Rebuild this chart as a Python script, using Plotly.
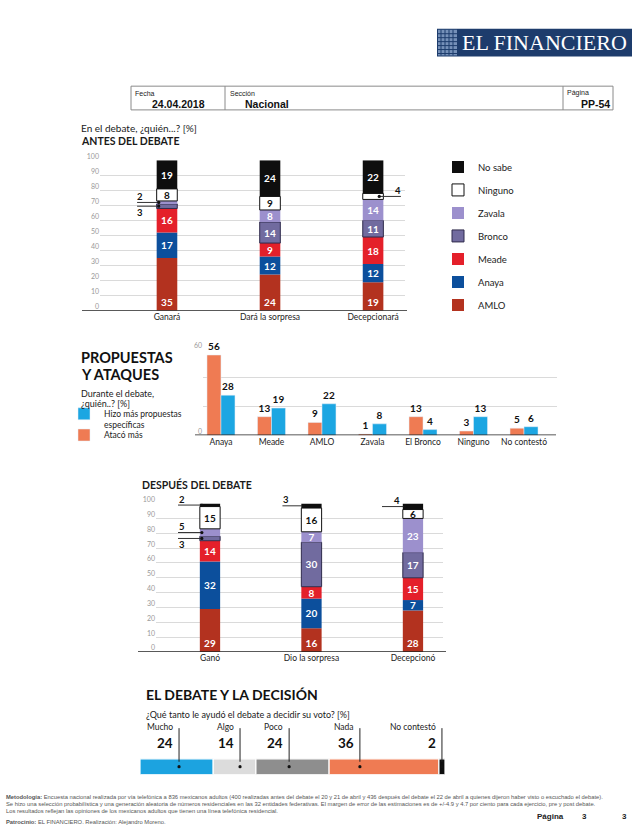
import plotly.graph_objects as go

W, H = 640, 833
def px(x): return x / W
def py(y): return 1 - y / H

FONT = "Lato"
NARROW = "Liberation Sans Narrow, Lato"
DARK = "#1a1a1a"

# ---------------- Data ----------------
candidatos = ["AMLO", "Anaya", "Meade", "Bronco", "Zavala", "Ninguno", "No sabe"]

antes_cats = ["Ganará", "Dará la sorpresa", "Decepcionará"]
antes_amlo = [35, 24, 19]
antes_anaya = [17, 12, 12]
antes_meade = [16, 9, 18]
antes_bronco = [3, 14, 11]
antes_zavala = [2, 8, 14]
antes_ninguno = [8, 9, 4]
antes_nosabe = [19, 24, 22]

despues_cats = ["Ganó", "Dio la sorpresa", "Decepcionó"]
despues_amlo = [29, 16, 28]
despues_anaya = [32, 20, 7]
despues_meade = [14, 8, 15]
despues_bronco = [3, 30, 17]
despues_zavala = [5, 7, 23]
despues_ninguno = [15, 16, 6]
despues_nosabe = [2, 3, 4]

prop_cats = ["Anaya", "Meade", "AMLO", "Zavala", "El Bronco", "Ninguno", "No contestó"]
prop_ataco = [56, 13, 9, 1, 13, 3, 5]
prop_propuestas = [28, 19, 22, 8, 4, 13, 6]

decision_cats = ["Mucho", "Algo", "Poco", "Nada", "No contestó"]
decision_vals = [24, 14, 24, 36, 2]

stack_ticks = list(range(0, 101, 10))

# ---------------- Styles ----------------
cand_colors = ["#b3321f", "#0c4f9c", "#e4202a", "#716b9f", "#9c90cd", "#ffffff", "#0e0e0e"]
cand_line_colors = ["#b3321f", "#0c4f9c", "#e4202a", "#2f2b4c", "#9c90cd", "#111111", "#0e0e0e"]
cand_line_widths = [0, 0, 0, 1, 0, 1, 0]
ORANGE = "#ef7b53"
BLUE = "#1ca6e2"
decision_colors = ["#1ca3e0", "#dcdcdc", "#8e8e8e", ORANGE, "#0e0e0e"]
decision_line_pos = [12.8, 32.8, 48.9, 72.1, 99.0]

fig = go.Figure()

def add_stack(series, cats, xa, ya, show_legend):
    base = [0] * len(cats)
    n = len(candidatos)
    for k, (name, vals, col, lc, lw) in enumerate(zip(candidatos, series, cand_colors, cand_line_colors, cand_line_widths)):
        text = [str(v) if v > 5 else "" for v in vals]
        fig.add_trace(go.Bar(
            x=cats, y=vals, base=list(base), width=0.2,
            name=name, legendgroup=name, showlegend=show_legend, legendrank=n - k,
            marker=dict(color=col, line=dict(color=lc, width=lw)),
            text=text, textposition="inside", textangle=0, constraintext="none",
            insidetextanchor="start" if name == "AMLO" else "middle",
            textfont=dict(family=FONT, size=10, weight="bold",
                          color=("#111111" if name == "Ninguno" else "white")),
            xaxis=xa, yaxis=ya, hoverinfo="skip"))
        base = [b + v for b, v in zip(base, vals)]

antes = [antes_amlo, antes_anaya, antes_meade, antes_bronco, antes_zavala, antes_ninguno, antes_nosabe]
despues = [despues_amlo, despues_anaya, despues_meade, despues_bronco, despues_zavala, despues_ninguno, despues_nosabe]
add_stack(antes, antes_cats, "x", "y", True)
add_stack(despues, despues_cats, "x3", "y3", False)

def mid(series, k, i):
    return sum(s[i] for s in series[:k]) + series[k][i] / 2

# ---------------- Propuestas y ataques ----------------
fig.add_trace(go.Bar(
    x=prop_cats, y=prop_ataco, width=0.277, offset=-0.277, name="Atacó más",
    marker=dict(color=ORANGE), text=prop_ataco, textposition="outside", constraintext="none",
    textfont=dict(family=FONT, size=10, weight="bold", color="#111"),
    cliponaxis=False, xaxis="x2", yaxis="y2", legend="legend3", hoverinfo="skip"))
fig.add_trace(go.Bar(
    x=prop_cats, y=prop_propuestas, width=0.277, offset=0,
    name="Hizo más propuestas<br>específicas",
    marker=dict(color=BLUE), text=prop_propuestas, textposition="outside", constraintext="none",
    textfont=dict(family=FONT, size=10, weight="bold", color="#111"),
    cliponaxis=False, xaxis="x2", yaxis="y2", legend="legend2", hoverinfo="skip"))

# ---------------- Decision bar ----------------
cum = 0
for name, v, col in zip(decision_cats, decision_vals, decision_colors):
    fig.add_trace(go.Bar(
        x=[v], y=[0], base=[cum], orientation="h", width=1, name=name,
        marker=dict(color=col, line=dict(color="white", width=1.2)),
        showlegend=False, xaxis="x4", yaxis="y4", hoverinfo="skip"))
    cum += v

# ---------------- Axes ----------------
ycommon = dict(showline=False, zeroline=False, ticks="", gridcolor="#dadada", gridwidth=1,
               tickfont=dict(size=7, color="#9a9a9a"), ticklabelshift=-4)
xcommon = dict(type="category", showgrid=False, zeroline=False, showline=False, ticks="",
               tickfont=dict(size=8.5, color="#222"))

fig.update_layout(
    xaxis=dict(domain=[px(100), px(405)], range=[-0.65, 2.31], anchor="y", **xcommon),
    yaxis=dict(domain=[py(305), py(153)], range=[0, 100], tickvals=stack_ticks, anchor="x", **ycommon),
    xaxis2=dict(domain=[px(203), px(557)], range=[-0.356, 6.653], anchor="y2", **xcommon),
    yaxis2=dict(domain=[py(431), py(344)], range=[0, 60], tickvals=[0, 20, 40, 60],
                ticktext=["0", "", "", "60"], anchor="x2", **ycommon),
    xaxis3=dict(domain=[px(156), px(443)], range=[-0.532, 2.296], anchor="y3", **xcommon),
    yaxis3=dict(domain=[py(650), py(500)], range=[0, 100], tickvals=stack_ticks, anchor="x3", **ycommon),
    xaxis4=dict(domain=[px(140), px(445)], range=[0, 100], visible=False, anchor="y4"),
    yaxis4=dict(domain=[py(774), py(758)], range=[-0.5, 0.5], visible=False, anchor="x4"),
)

# ---------------- Shapes ----------------
shapes = []
shapes.append(dict(type="rect", xref="paper", yref="paper", x0=px(437), x1=px(632), y0=py(48), y1=py(20),
                   fillcolor="#1d3c6c", line=dict(width=0), layer="below"))
shapes.append(dict(type="rect", xref="paper", yref="paper", x0=px(438), x1=px(457), y0=py(47), y1=py(21),
                   fillcolor="#7590b8", line=dict(width=0), layer="below"))
for gx in [441, 445, 449, 453]:
    shapes.append(dict(type="line", xref="paper", yref="paper", x0=px(gx), x1=px(gx), y0=py(47), y1=py(21),
                       line=dict(color="#1d3c6c", width=1)))
for gy in [25, 29, 33, 37, 41, 45]:
    shapes.append(dict(type="line", xref="paper", yref="paper", x0=px(438), x1=px(457), y0=py(gy), y1=py(gy),
                       line=dict(color="#1d3c6c", width=1)))
shapes.append(dict(type="rect", xref="paper", yref="paper", x0=px(131), x1=px(613), y0=py(102), y1=py(78),
                   line=dict(color="#8a8a8a", width=1)))
for vx in [225, 563]:
    shapes.append(dict(type="line", xref="paper", yref="paper", x0=px(vx), x1=px(vx), y0=py(102), y1=py(78),
                       line=dict(color="#8a8a8a", width=1)))
shapes.append(dict(type="line", xref="paper", yref="y", x0=px(82), x1=px(407), y0=0, y1=0,
                   line=dict(color="#222", width=1.5)))
shapes.append(dict(type="line", xref="paper", yref="y2", x0=px(195), x1=px(556), y0=0, y1=0,
                   line=dict(color="#222", width=1.5)))
shapes.append(dict(type="line", xref="paper", yref="y3", x0=px(138), x1=px(446), y0=0, y1=0,
                   line=dict(color="#222", width=1.5)))

ann = []
def pointer(xr, yr, x_bar, x_far, yv, label, dy, tx):
    shapes.append(dict(type="line", xref=xr, yref=yr, x0=x_far, x1=x_bar, y0=yv, y1=yv,
                       line=dict(color="#333", width=1)))
    shapes.append(dict(type="circle", xref=xr, yref=yr, xsizemode="pixel", ysizemode="pixel",
                       xanchor=x_bar, yanchor=yv, x0=-1.6, x1=1.6, y0=-1.6, y1=1.6,
                       fillcolor="#111", line=dict(width=0)))
    ann.append(dict(xref=xr, yref=yr, x=tx, y=yv, yshift=dy, text=f"<b>{label}</b>", showarrow=False,
                    font=dict(size=9.5, color="#111", family=FONT)))

pointer("x", "y", -0.08, -0.29, mid(antes, 4, 0), antes_zavala[0], 6, -0.26)
pointer("x", "y", -0.08, -0.29, mid(antes, 3, 0), antes_bronco[0], -6, -0.26)
pointer("x", "y", 2.06, 2.27, mid(antes, 5, 2), antes_ninguno[2], 6, 2.24)
pointer("x3", "y3", -0.08, -0.315, mid(despues, 6, 0), despues_nosabe[0], 6, -0.28)
pointer("x3", "y3", -0.08, -0.315, mid(despues, 4, 0), despues_zavala[0], 6, -0.28)
pointer("x3", "y3", -0.08, -0.315, mid(despues, 3, 0), despues_bronco[0], -6, -0.28)
pointer("x3", "y3", 0.92, 0.714, mid(despues, 6, 1), despues_nosabe[1], 6, 0.75)
pointer("x3", "y3", 1.92, 1.695, mid(despues, 6, 2), despues_nosabe[2], 6, 1.84)

for name, v, lx in zip(decision_cats, decision_vals, decision_line_pos):
    shapes.append(dict(type="line", xref="x4", yref="paper", x0=lx, x1=lx, y0=py(761), y1=py(727),
                       line=dict(color="#222", width=1)))
    shapes.append(dict(type="circle", xref="x4", yref="y4", xsizemode="pixel", ysizemode="pixel",
                       xanchor=lx, yanchor=0, x0=-1.6, x1=1.6, y0=-1.6, y1=1.6,
                       fillcolor="#111", line=dict(width=0)))
    ann.append(dict(xref="x4", yref="paper", x=lx, xshift=-4, y=py(726), text=name, showarrow=False,
                    xanchor="right", yanchor="middle", font=dict(size=8.5, color="#222", family=FONT)))
    ann.append(dict(xref="x4", yref="paper", x=lx, xshift=-4, y=py(742), text=f"<b>{v}</b>", showarrow=False,
                    xanchor="right", yanchor="middle", font=dict(size=13.5, color="#111", family=FONT)))

def txt(x, y, s, size, bold=False, anchor="left", color=DARK, family=FONT):
    ann.append(dict(x=px(x), y=py(y), xref="paper", yref="paper", text=(f"<b>{s}</b>" if bold else s),
                    showarrow=False, xanchor=anchor, yanchor="middle",
                    font=dict(size=size, color=color, family=family)))

SANS = "Liberation Sans"
txt(460, 34, "EL FINANCIERO", 22, color="white", family="Liberation Serif")
txt(133, 85, "Fecha", 7, family=SANS, color="#222")
txt(150, 96, "24.04.2018", 10.5, bold=True, family=SANS, color="#111")
txt(228, 85, "Sección", 7, family=SANS, color="#222")
txt(243, 96, "Nacional", 10.5, bold=True, family=SANS, color="#111")
txt(565, 85, "Página", 7, family=SANS, color="#222")
txt(612, 96, "PP-54", 10.5, bold=True, anchor="right", family=SANS, color="#111")

txt(79, 120, "En el debate, ¿quién...? [%]", 10)
txt(79, 133, "ANTES DEL DEBATE", 10.5, bold=True, family=NARROW)
txt(79, 352, "PROPUESTAS", 14.5, bold=True, color="#111")
txt(79, 369, "Y ATAQUES", 14.5, bold=True, color="#111")
txt(79, 389, "Durante el debate,", 9)
txt(79, 399, "¿quién..? [%]", 9)
txt(140, 481, "DESPUÉS DEL DEBATE", 10.5, bold=True, family=NARROW)
txt(144, 693, "EL DEBATE Y LA DECISIÓN", 14, bold=True, color="#111")
txt(144, 713, "¿Qué tanto le ayudó el debate a decidir su voto? [%]", 9)

FOOT = "#555"
FS = 5.8
txt(4, 797, "<b>Metodología:</b> Encuesta nacional realizada por vía telefónica a 836 mexicanos adultos (400 realizadas antes del debate el 20 y 21 de abril y 436 después del debate el 22 de abril a quienes dijeron haber visto o escuchado el debate).", FS, family=SANS, color=FOOT)
txt(4, 804, "Se hizo una selección probabilística y una generación aleatoria de números residenciales en las 32 entidades federativas. El margen de error de las estimaciones es de +/-4.9 y 4.7 por ciento para cada ejercicio, pre y post debate.", FS, family=SANS, color=FOOT)
txt(4, 811, "Los resultados reflejan las opiniones de los mexicanos adultos que tienen una línea telefónica residencial.", FS, family=SANS, color=FOOT)
txt(4, 822, "<b>Patrocinio:</b> EL FINANCIERO. Realización: Alejandro Moreno.", FS, family=SANS, color=FOOT)
txt(535, 816, "Página", 8, bold=True, family=SANS, color="#222")
txt(580, 816, "3", 8, bold=True, family=SANS, color="#222")
txt(620, 816, "3", 8, bold=True, family=SANS, color="#222")

fig.update_layout(
    width=W, height=H, margin=dict(l=0, r=0, t=0, b=0),
    paper_bgcolor="white", plot_bgcolor="white", barmode="overlay",
    font=dict(family=FONT, color=DARK),
    shapes=shapes, annotations=ann, showlegend=True,
    legend=dict(x=px(438), y=py(145), xanchor="left", yanchor="top",
                traceorder="grouped", tracegroupgap=4,
                font=dict(size=9.5, color="#222", family=FONT), bgcolor="rgba(0,0,0,0)"),
    legend2=dict(x=px(64), y=py(397), xanchor="left", yanchor="top",
                 valign="top", font=dict(size=8.5, color="#222", family=FONT), bgcolor="rgba(0,0,0,0)"),
    legend3=dict(x=px(64), y=py(416), xanchor="left", yanchor="top",
                 font=dict(size=8.5, color="#222", family=FONT), bgcolor="rgba(0,0,0,0)"),
    hovermode=False,
)

fig.write_html("out.html", config={"displayModeBar": False},
               post_script="document.body.style.margin='0px';")
